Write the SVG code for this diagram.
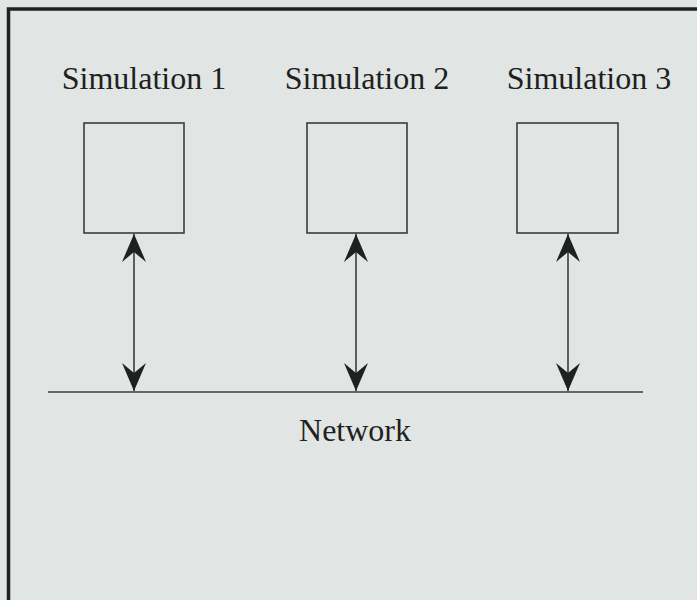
<svg xmlns="http://www.w3.org/2000/svg" width="697" height="600" viewBox="0 0 697 600">
<style>
.bg{fill:#e1e5e3}
.frame{fill:none;stroke:#1e2120;stroke-width:3.5}
.box{fill:#e1e5e3;stroke:#3a3d3c;stroke-width:1.6}
.lbl{font-family:"Liberation Serif","Times New Roman",serif;font-size:32px;fill:#1e2120}
.ln{stroke:#3a3d3c;stroke-width:1.6;fill:none}
.head{fill:#1e2120}
</style>
<defs>
<marker id="ah" viewBox="0 0 28 24" refX="28" refY="12" markerWidth="28" markerHeight="24" markerUnits="userSpaceOnUse" orient="auto-start-reverse">
<path class="head" d="M28,12 L0,0 L10,12 L0,24 Z"/>
</marker>
</defs>
<rect class="bg" x="0" y="0" width="697" height="600"/>
<rect class="frame" x="8.5" y="9" width="700" height="600"/>
<g id="sim1">
<text class="lbl" x="144" y="89" text-anchor="middle">Simulation 1</text>
<rect class="box" x="84" y="123" width="100" height="110"/>
</g>
<g id="sim2">
<text class="lbl" x="367" y="89" text-anchor="middle">Simulation 2</text>
<rect class="box" x="307" y="123" width="100" height="110"/>
</g>
<g id="sim3">
<text class="lbl" x="589" y="89" text-anchor="middle">Simulation 3</text>
<rect class="box" x="517" y="123" width="101" height="110"/>
</g>
<g id="network">
<line class="ln" x1="48" y1="392" x2="643" y2="392"/>
<text class="lbl" x="355" y="441" text-anchor="middle">Network</text>
</g>
<g id="connectors">
<line class="ln" x1="134" y1="234" x2="134" y2="391" marker-start="url(#ah)" marker-end="url(#ah)"/>
<line class="ln" x1="356" y1="234" x2="356" y2="391" marker-start="url(#ah)" marker-end="url(#ah)"/>
<line class="ln" x1="568" y1="234" x2="568" y2="391" marker-start="url(#ah)" marker-end="url(#ah)"/>
</g>
</svg>
